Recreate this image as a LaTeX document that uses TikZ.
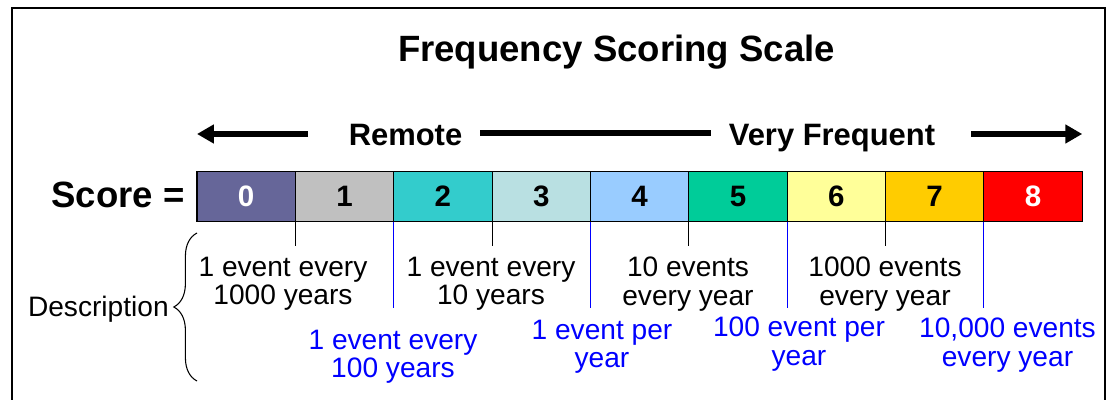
\documentclass[tikz,border=0pt]{standalone}
\usepackage{fontspec}
\setmainfont{Liberation Sans}
\usepackage{tikz}
\usetikzlibrary{positioning, arrows.meta, decorations.pathreplacing}

\definecolor{sc0}{RGB}{102,102,153}
\definecolor{sc1}{RGB}{192,192,192}
\definecolor{sc2}{RGB}{51,204,204}
\definecolor{sc3}{RGB}{185,224,226}
\definecolor{sc4}{RGB}{153,204,255}
\definecolor{sc5}{RGB}{0,204,153}
\definecolor{sc6}{RGB}{255,255,153}
\definecolor{sc7}{RGB}{255,204,0}
\definecolor{sc8}{RGB}{255,0,0}

\begin{document}
    \begin{tikzpicture}[x=0.025cm, y=-0.025cm]
        \tikzstyle{scorebox}=[draw, line width=0.8pt, minimum width=2.4583cm, minimum height=1.25cm, inner sep=0pt, outer sep=0pt, font=\fontsize{21}{21}\selectfont\bfseries];
        \tikzstyle{desc}=[align=center, inner sep=0pt, font=\fontsize{20}{20.1}\selectfont];
        \tikzstyle{bluedesc}=[desc, text=blue];
        \tikzstyle{heading}=[inner sep=0pt, anchor=base, font=\fontsize{22}{22}\selectfont\bfseries];
        \tikzstyle{scoretick}=[line width=0.75pt];
        \tikzstyle{bluetick}=[line width=0.75pt, blue];
        \tikzstyle{bigline}=[line width=3.8pt];
        \tikzstyle{bigarrow}=[bigline, -{Triangle[length=0.42cm, width=0.45cm]}];
        \useasboundingbox (0,0) rectangle (1112,400);
        \draw[line width=0.9pt] (12,400) -- (12,8) -- (1105,8) -- (1105,400);

        \node[inner sep=0pt, anchor=base, font=\fontsize{26}{26}\selectfont\bfseries] (title) at (616.5,62) {Frequency Scoring Scale};

        % the scale
        \node[scorebox, fill=sc0, text=white] (b0) at (246.17,196.5) {0};
        \node[scorebox, fill=sc1, right=0pt of b0] (b1) {1};
        \node[scorebox, fill=sc2, right=0pt of b1] (b2) {2};
        \node[scorebox, fill=sc3, right=0pt of b2] (b3) {3};
        \node[scorebox, fill=sc4, right=0pt of b3] (b4) {4};
        \node[scorebox, fill=sc5, right=0pt of b4] (b5) {5};
        \node[scorebox, fill=sc6, right=0pt of b5] (b6) {6};
        \node[scorebox, fill=sc7, right=0pt of b6] (b7) {7};
        \node[scorebox, fill=sc8, text=white, right=0pt of b7] (b8) {8};
        \node[inner sep=0pt, anchor=base east, font=\fontsize{26}{26}\selectfont\bfseries] (score) at (185,207.5) {Score =};

        % remote -- very frequent
        \node[heading] (remote) at (405.5,146) {Remote};
        \node[heading] (frequent) at (832,146) {Very Frequent};
        \coordinate (leftend) at (308,134);
        \coordinate (midstart) at (480,133);
        \coordinate (midend) at (711,133);
        \coordinate (rightstart) at (971,134);
        \draw[bigarrow] (leftend) -- (b0.west |- leftend);
        \draw[bigline] (midstart) -- (midend);
        \draw[bigarrow] (rightstart) -- (b8.east |- rightstart);

        % ticks under the boxes
        \draw[scoretick] (b0.south east) -- ++(0,24);
        \draw[scoretick] (b2.south east) -- ++(0,24);
        \draw[scoretick] (b4.south east) -- ++(0,24);
        \draw[scoretick] (b6.south east) -- ++(0,24);
        \draw[bluetick] (b1.south east) -- ++(0,86);
        \draw[bluetick] (b3.south east) -- ++(0,86);
        \draw[bluetick] (b5.south east) -- ++(0,86);
        \draw[bluetick] (b7.south east) -- ++(0,86);

        % descriptions
        \node[desc] (d0) at (283,284) {1 event every\\1000 years};
        \node[desc] (d2) at (491,284) {1 event every\\10 years};
        \node[desc] (d4) at (688,284) {10 events\\every year};
        \node[desc] (d6) at (885,284) {1000 events\\every year};
        \node[bluedesc] (d1) at (393,357) {1 event every\\100 years};
        \node[bluedesc] (d3) at (602,347) {1 event per\\year};
        \node[bluedesc] (d5) at (799,344) {100 event per\\year};
        \node[bluedesc] (d7) at (1007.5,345) {10,000 events\\every year};

        \node[inner sep=0pt, anchor=base east, font=\fontsize{20}{20}\selectfont] (descr) at (169,316.7) {Description};
        \coordinate (braceB) at (197,381);
        \coordinate (braceT) at (197,233);
        \draw[decorate, decoration={brace, amplitude=0.58cm}, line width=0.75pt] (braceB) -- (braceT);
    \end{tikzpicture}
\end{document}
